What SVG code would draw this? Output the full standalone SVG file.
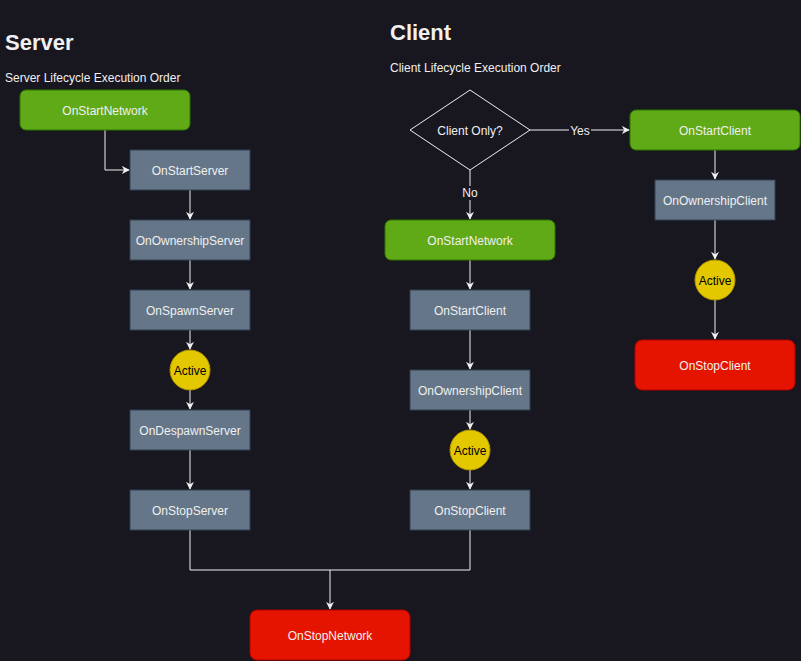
<svg xmlns="http://www.w3.org/2000/svg" width="801" height="661" viewBox="0 0 801 661">
<defs>
<marker id="arr" viewBox="0 0 10 10" refX="9" refY="5" markerWidth="8" markerHeight="8" markerUnits="userSpaceOnUse" orient="auto">
<path d="M0,0 L10,5 L0,10 L3,5 Z" fill="#f0f0f0"/>
</marker>
<style>
text{font-family:"Liberation Sans",Arial,sans-serif;font-size:12px;fill:#f0f0f0}
.t{text-anchor:middle;dominant-baseline:central;transform:translateY(1px)}
.h{font-size:22px;font-weight:bold}
.g{fill:#60a917;stroke:#2d7600}
.s{fill:#647687;stroke:#314354}
.r{fill:#e51400;stroke:#b20000}
.y{fill:#e3c800;stroke:#b09500}
.y+text{fill:#000}
.e{fill:none;stroke:#f0f0f0;stroke-width:1}
</style>
</defs>
<rect width="801" height="661" fill="#18161f"/>
<text x="5" y="50" class="h">Server</text>
<text x="5" y="82">Server Lifecycle Execution Order</text>
<text x="390" y="40" class="h">Client</text>
<text x="390" y="72">Client Lifecycle Execution Order</text>
<g id="edges">
<path class="e" d="M105,130 V170 H129" marker-end="url(#arr)"/>
<path class="e" d="M190,190 V219" marker-end="url(#arr)"/>
<path class="e" d="M190,260 V289" marker-end="url(#arr)"/>
<path class="e" d="M190,330 V349" marker-end="url(#arr)"/>
<path class="e" d="M190,390 V409" marker-end="url(#arr)"/>
<path class="e" d="M190,450 V489" marker-end="url(#arr)"/>
<path class="e" d="M190,530 V570 H470 V530"/>
<path class="e" d="M330,570 V609" marker-end="url(#arr)"/>
<path class="e" d="M530,130 H629" marker-end="url(#arr)"/>
<path class="e" d="M470,170 V219" marker-end="url(#arr)"/>
<path class="e" d="M470,260 V289" marker-end="url(#arr)"/>
<path class="e" d="M470,330 V369" marker-end="url(#arr)"/>
<path class="e" d="M470,410 V429" marker-end="url(#arr)"/>
<path class="e" d="M470,470 V489" marker-end="url(#arr)"/>
<path class="e" d="M715,150 V179" marker-end="url(#arr)"/>
<path class="e" d="M715,220 V259" marker-end="url(#arr)"/>
<path class="e" d="M715,300 V339" marker-end="url(#arr)"/>
<rect x="569" y="124" width="22" height="13" fill="#18161f"/>
<text x="580" y="130" class="t">Yes</text>
<rect x="462" y="186" width="16" height="14" fill="#18161f"/>
<text x="470" y="192" class="t">No</text>
</g>
<g id="s_startnet"><rect class="g" x="20" y="90" width="170" height="40" rx="6"/><text x="105" y="110" class="t">OnStartNetwork</text></g>
<g id="s_startserver"><rect class="s" x="130" y="150" width="120" height="40"/><text x="190" y="170" class="t">OnStartServer</text></g>
<g id="s_ownserver"><rect class="s" x="130" y="220" width="120" height="40"/><text x="190" y="240" class="t">OnOwnershipServer</text></g>
<g id="s_spawn"><rect class="s" x="130" y="290" width="120" height="40"/><text x="190" y="310" class="t">OnSpawnServer</text></g>
<g id="s_active"><circle class="y" cx="190" cy="370" r="20"/><text x="190" y="370" class="t">Active</text></g>
<g id="s_despawn"><rect class="s" x="130" y="410" width="120" height="40"/><text x="190" y="430" class="t">OnDespawnServer</text></g>
<g id="s_stopserver"><rect class="s" x="130" y="490" width="120" height="40"/><text x="190" y="510" class="t">OnStopServer</text></g>
<g id="stopnet"><rect class="r" x="250" y="610" width="160" height="50" rx="7"/><text x="330" y="635" class="t">OnStopNetwork</text></g>
<g id="c_decision"><path d="M470,90 L530,130 L470,170 L410,130 Z" fill="#18161f" stroke="#f0f0f0"/><text x="470" y="130" class="t">Client Only?</text></g>
<g id="c_startnet"><rect class="g" x="385" y="220" width="170" height="40" rx="6"/><text x="470" y="240" class="t">OnStartNetwork</text></g>
<g id="c_startclient"><rect class="s" x="410" y="290" width="120" height="40"/><text x="470" y="310" class="t">OnStartClient</text></g>
<g id="c_ownclient"><rect class="s" x="410" y="370" width="120" height="40"/><text x="470" y="390" class="t">OnOwnershipClient</text></g>
<g id="c_active"><circle class="y" cx="470" cy="450" r="20"/><text x="470" y="450" class="t">Active</text></g>
<g id="c_stopclient"><rect class="s" x="410" y="490" width="120" height="40"/><text x="470" y="510" class="t">OnStopClient</text></g>
<g id="co_startclient"><rect class="g" x="630" y="110" width="170" height="40" rx="6"/><text x="715" y="130" class="t">OnStartClient</text></g>
<g id="co_ownclient"><rect class="s" x="655" y="180" width="120" height="40"/><text x="715" y="200" class="t">OnOwnershipClient</text></g>
<g id="co_active"><circle class="y" cx="715" cy="280" r="20"/><text x="715" y="280" class="t">Active</text></g>
<g id="co_stopclient"><rect class="r" x="635" y="340" width="160" height="50" rx="7"/><text x="715" y="365" class="t">OnStopClient</text></g>
</svg>
